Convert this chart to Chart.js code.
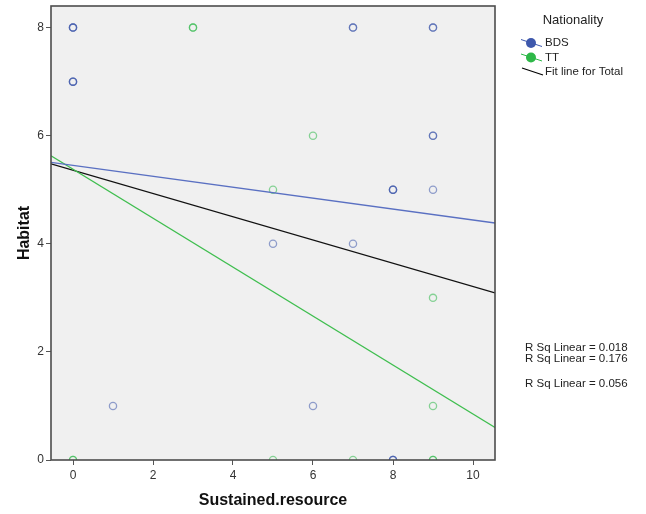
<!DOCTYPE html>
<html>
<head>
<meta charset="utf-8">
<script src="https://cdn.jsdelivr.net/npm/chart.js@4.4.1/dist/chart.umd.min.js"></script>
<style>
  html, body { margin: 0; padding: 0; background: #fff; }
  #wrap { width: 646px; height: 514px; position: relative; }
</style>
</head>
<body>
<div id="wrap"><canvas id="habitatChart"></canvas></div>
<script>
const xTicks = [0, 2, 4, 6, 8, 10];
const yTicks = [0, 2, 4, 6, 8];

// repeated pairs are overlapping cases, they come out darker
const bdsX = [0, 0, 0, 0, 0, 0, 7, 7, 9, 9, 9, 9, 8, 8, 8, 9, 5, 7, 1, 6, 8, 8, 8];
const bdsY = [8, 8, 8, 7, 7, 7, 8, 8, 8, 8, 6, 6, 5, 5, 5, 5, 4, 4, 1, 1, 0, 0, 0];
const ttX = [3, 3, 6, 5, 9, 9, 0, 0, 5, 7, 9, 9];
const ttY = [8, 8, 6, 5, 3, 1, 0, 0, 0, 0, 0, 0];

const groupNames = ['BDS', 'TT'];
const fitLabel = 'Fit line for Total';
const fitIntercepts = [5.45, 5.38, 5.36];   // BDS, TT, Total
const fitSlopes = [-0.101, -0.453, -0.215];
const rSquared = [0.018, 0.176, 0.056];

const X_MIN = -0.55, X_MAX = 10.55;
const FONT = '"Liberation Sans", Arial, sans-serif';
const blue = '#3e58ac', green = '#2eb848';

function toPoints(xs, ys) {
  return xs.map((x, i) => ({ x: x, y: ys[i] }));
}

function fitPoints(i) {
  return [X_MIN, X_MAX].map(x => ({ x: x, y: fitIntercepts[i] + fitSlopes[i] * x }));
}

function fitLine(i, color) {
  return {
    type: 'line',
    data: fitPoints(i),
    borderColor: color,
    borderWidth: 1.3,
    pointRadius: 0,
    fill: false,
    clip: 0
  };
}

const framePlugin = {
  id: 'frame',
  beforeDraw(chart) {
    const { ctx, chartArea: a } = chart;
    ctx.save();
    ctx.fillStyle = '#f0f0f0';
    ctx.fillRect(a.left, a.top, a.right - a.left, a.bottom - a.top);
    ctx.restore();
  },
  afterDraw(chart) {
    const { ctx, chartArea: a } = chart;
    ctx.save();
    ctx.strokeStyle = '#4d4d4d';
    ctx.lineWidth = 1.6;
    ctx.strokeRect(a.left, a.top, a.right - a.left, a.bottom - a.top);

    // legend
    ctx.fillStyle = '#222';
    ctx.textBaseline = 'middle';
    ctx.font = '13px ' + FONT;
    ctx.textAlign = 'center';
    ctx.fillText('Nationality', 573, 20);

    ctx.textAlign = 'left';
    ctx.font = '11.5px ' + FONT;
    const colors = [blue, green];
    const rowY = [43, 57.5, 72];
    groupNames.forEach((name, i) => {
      const y = rowY[i];
      ctx.strokeStyle = colors[i];
      ctx.lineWidth = 1;
      ctx.beginPath();
      ctx.moveTo(521, y - 3.5);
      ctx.lineTo(542, y + 3.5);
      ctx.stroke();
      ctx.fillStyle = colors[i];
      ctx.beginPath();
      ctx.arc(531, y, 5, 0, Math.PI * 2);
      ctx.fill();
      ctx.fillStyle = '#222';
      ctx.fillText(name, 545, y);
    });
    ctx.strokeStyle = '#000';
    ctx.lineWidth = 1.3;
    ctx.beginPath();
    ctx.moveTo(522, rowY[2] - 4);
    ctx.lineTo(543, rowY[2] + 3);
    ctx.stroke();
    ctx.fillStyle = '#222';
    ctx.fillText(fitLabel, 545, rowY[2]);

    // R squared notes
    const noteY = [348, 359, 384];
    rSquared.forEach((r, i) => {
      ctx.fillText('R Sq Linear = ' + r.toFixed(3), 525, noteY[i]);
    });
    ctx.restore();
  }
};

const ctx = document.getElementById('habitatChart');

new Chart(ctx, {
  type: 'scatter',
  data: {
    datasets: [
      fitLine(0, '#5a70c2'),
      fitLine(1, '#3fbe4f'),
      fitLine(2, '#111'),
      {
        label: groupNames[0],
        data: toPoints(bdsX, bdsY),
        pointStyle: 'circle',
        pointRadius: 3.6,
        pointBorderWidth: 1.3,
        borderColor: 'rgba(62, 88, 172, 0.55)',
        backgroundColor: 'rgba(0, 0, 0, 0)',
        clip: 0
      },
      {
        label: groupNames[1],
        data: toPoints(ttX, ttY),
        pointStyle: 'circle',
        pointRadius: 3.6,
        pointBorderWidth: 1.3,
        borderColor: 'rgba(46, 184, 72, 0.55)',
        backgroundColor: 'rgba(0, 0, 0, 0)',
        clip: 0
      }
    ]
  },
  options: {
    responsive: true,
    maintainAspectRatio: false,
    animation: false,
    layout: { padding: { top: 6, right: 151, left: 0, bottom: 0 } },
    plugins: {
      legend: { display: false },
      tooltip: { enabled: false }
    },
    scales: {
      x: {
        type: 'linear',
        min: X_MIN,
        max: X_MAX,
        afterBuildTicks: scale => { scale.ticks = xTicks.map(v => ({ value: v })); },
        afterFit: scale => { scale.height = 54; scale.paddingLeft = 0; scale.paddingRight = 0; },
        ticks: { font: { family: FONT, size: 12 }, color: '#333', padding: 3 },
        grid: { drawOnChartArea: false, color: '#555', tickLength: 5, lineWidth: 1 },
        border: { display: false },
        title: {
          display: true,
          text: 'Sustained.resource',
          color: '#111',
          font: { family: FONT, size: 16, weight: 'bold' },
          padding: { top: 0, bottom: 4 }
        }
      },
      y: {
        type: 'linear',
        min: 0,
        max: 8.4,
        afterBuildTicks: scale => { scale.ticks = yTicks.map(v => ({ value: v })); },
        afterFit: scale => { scale.width = 51; scale.paddingTop = 0; scale.paddingBottom = 0; },
        ticks: { font: { family: FONT, size: 12 }, color: '#333', padding: 2 },
        grid: { drawOnChartArea: false, color: '#555', tickLength: 5, lineWidth: 1 },
        border: { display: false },
        title: {
          display: true,
          text: 'Habitat',
          color: '#111',
          font: { family: FONT, size: 16, weight: 'bold' },
          padding: { top: 15, bottom: 0 }
        }
      }
    }
  },
  plugins: [framePlugin]
});
</script>
</body>
</html>
